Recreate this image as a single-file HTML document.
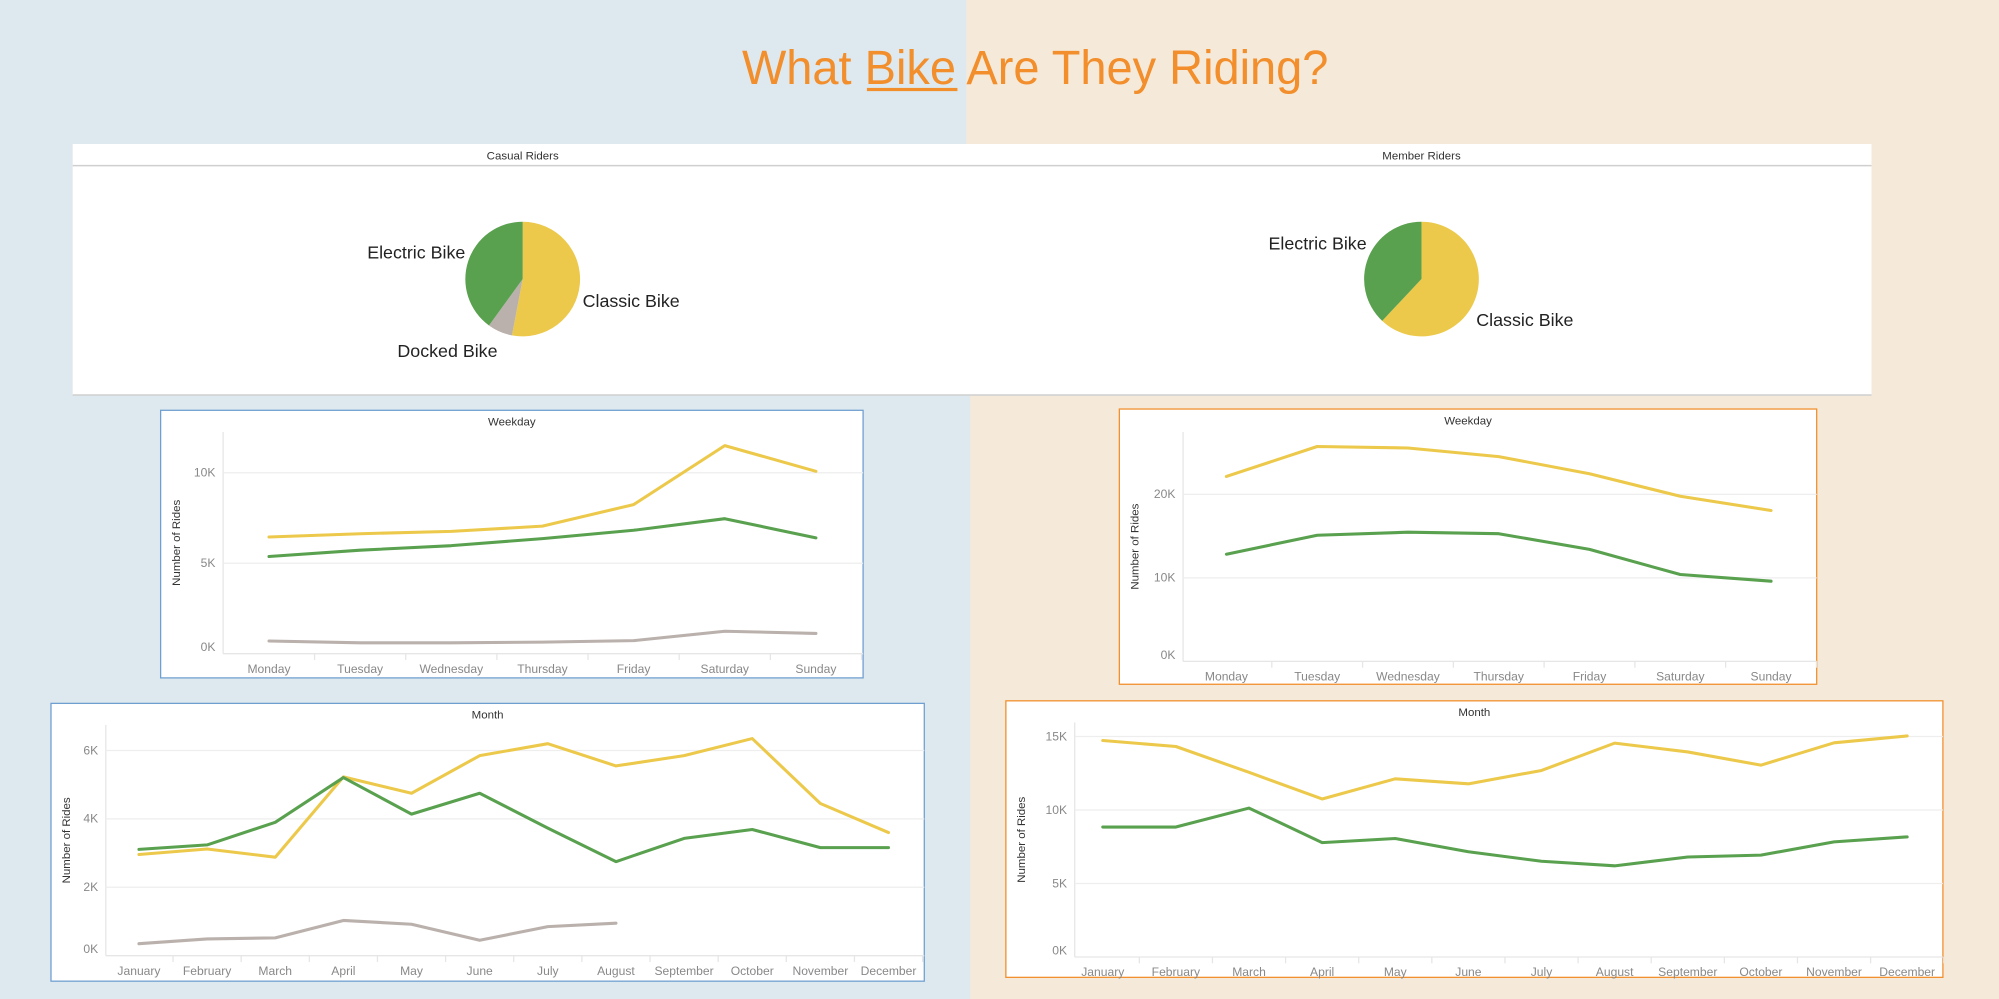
<!DOCTYPE html>
<html><head><meta charset="utf-8">
<style>
html,body{margin:0;padding:0;width:1999px;height:999px;overflow:hidden;background:#dde9ef;}
svg{display:block}
text{font-family:"Liberation Sans","DejaVu Sans",sans-serif;}
</style></head>
<body>
<svg id="root" width="1999" height="999" viewBox="0 0 1568 784" preserveAspectRatio="none" xmlns="http://www.w3.org/2000/svg">
  <rect x="0" y="0" width="758" height="310" fill="#dde9ef"/>
  <rect x="758" y="0" width="810" height="310" fill="#f5eada"/>
  <rect x="0" y="310" width="761" height="474" fill="#dde9ef"/>
  <rect x="761" y="310" width="807" height="474" fill="#f5eada"/>
  <text x="582" y="66" font-size="38" fill="#f28e2b" textLength="460" lengthAdjust="spacingAndGlyphs">What Bike Are They Riding?</text>
  <rect x="680" y="69" width="71" height="2.5" fill="#f28e2b"/>
  <rect x="57" y="113" width="1411" height="197" fill="#fff"/>
  <line x1="57" y1="130" x2="1468" y2="130" stroke="#cfcfcf" stroke-width="1.2"/>
  <line x1="57" y1="310" x2="1468" y2="310" stroke="#cfcfcf" stroke-width="1.2"/>
  <text x="410" y="125" font-size="9" fill="#333" text-anchor="middle">Casual Riders</text>
  <text x="1115" y="125" font-size="9" fill="#333" text-anchor="middle">Member Riders</text>
  <g id="pies"></g>
  <g id="charts"></g>
</svg>
<script>
// ---- Pie data ----
const casualPieLabels = ["Classic Bike", "Docked Bike", "Electric Bike"];
const casualPieShares = [53, 7, 40];
const memberPieLabels = ["Classic Bike", "Electric Bike"];
const memberPieShares = [62, 38];

// ---- Line chart data ----
const weekdays = ["Monday","Tuesday","Wednesday","Thursday","Friday","Saturday","Sunday"];
const months = ["January","February","March","April","May","June","July","August","September","October","November","December"];

const casualWeekdayClassic = [6.45, 6.63, 6.76, 7.05, 8.24, 11.5, 10.08];
const casualWeekdayElectric = [5.37, 5.72, 5.97, 6.36, 6.82, 7.46, 6.4];
const casualWeekdayDocked = [0.70, 0.6, 0.6, 0.64, 0.72, 1.24, 1.12];
const casualWeekdayTicks = [0, 5, 10];

const casualMonthClassic = [2.96, 3.12, 2.88, 5.23, 4.75, 5.85, 6.2, 5.55, 5.85, 6.35, 4.45, 3.6];
const casualMonthElectric = [3.11, 3.24, 3.9, 5.21, 4.14, 4.75, 3.73, 2.75, 3.43, 3.69, 3.16, 3.16];
const casualMonthDocked = [0.35, 0.49, 0.52, 1.03, 0.92, 0.45, 0.85, 0.95];
const casualMonthTicks = [0, 2, 4, 6];

const memberWeekdayClassic = [22.15, 25.74, 25.56, 24.53, 22.47, 19.78, 18.07];
const memberWeekdayElectric = [12.83, 15.11, 15.47, 15.29, 13.41, 10.4, 9.6];
const memberWeekdayTicks = [0, 10, 20];

const memberMonthClassic = [14.73, 14.32, 12.56, 10.75, 12.12, 11.78, 12.69, 14.55, 13.95, 13.05, 14.57, 15.04];
const memberMonthElectric = [8.84, 8.84, 10.13, 7.78, 8.06, 7.16, 6.51, 6.2, 6.8, 6.93, 7.83, 8.17];
const memberMonthTicks = [0, 5, 10, 15];

const NS = "http://www.w3.org/2000/svg";
const YELLOW = "#ecc94b", GREEN = "#59a14f", GRAY = "#bab0ac";

function mk(tag, attrs, parent) {
  const e = document.createElementNS(NS, tag);
  for (const k in attrs) e.setAttribute(k, attrs[k]);
  parent.appendChild(e);
  return e;
}

// ---- Pies ----
function drawPie(prefix, cx, cy, r, shares, labels, colors, labelPos) {
  const g = document.getElementById("pies");
  const total = shares.reduce((a, b) => a + b, 0);
  let start = 0;
  shares.forEach((s, i) => {
    const a0 = start / total * 2 * Math.PI, a1 = (start + s) / total * 2 * Math.PI;
    start += s;
    const x0 = cx + r * Math.sin(a0), y0 = cy - r * Math.cos(a0);
    const x1 = cx + r * Math.sin(a1), y1 = cy - r * Math.cos(a1);
    const large = (a1 - a0) > Math.PI ? 1 : 0;
    const p = mk("path", {d: `M${cx},${cy} L${x0},${y0} A${r},${r} 0 ${large} 1 ${x1},${y1} Z`, fill: colors[i]}, g);
    
    
    const lp = labelPos[i];
    const t = mk("text", {x: lp[0], y: lp[1], "font-size": 14, fill: "#222", "text-anchor": lp[2]}, g);
    t.textContent = labels[i];
    
    
  });
}
drawPie("casual-pie", 410, 219, 45, casualPieShares, casualPieLabels, [YELLOW, GRAY, GREEN],
  [[457, 241, "start"], [351, 280, "middle"], [365, 203, "end"]]);
drawPie("member-pie", 1115, 219, 45, memberPieShares, memberPieLabels, [YELLOW, GREEN],
  [[1158, 256, "start"], [1072, 196, "end"]]);

// ---- Line charts ----
function drawChart(cfg) {
  const g = mk("g", {}, document.getElementById("charts"));
  
  
  const box = mk("rect", {x: cfg.box[0], y: cfg.box[1], width: cfg.box[2], height: cfg.box[3], fill: "#fff", stroke: cfg.border, "stroke-width": 1}, g);
  
  
  const title = mk("text", {x: cfg.box[0] + cfg.box[2] / 2, y: cfg.box[1] + 12, "font-size": 9, fill: "#333", "text-anchor": "middle"}, g);
  title.textContent = cfg.title;
  
  

  const y = v => cfg.y0 - (v - 0) * (cfg.y0 - cfg.yTop) / (cfg.tickMax);
  const x = i => cfg.x0 + i * cfg.dx;
  const right = cfg.box[0] + cfg.box[2];

  // axis line
  const axl = mk("line", {x1: cfg.left, y1: cfg.plotTop, x2: cfg.left, y2: cfg.y0, stroke: "#e6e6e6", "stroke-width": 1}, g);
  
  
  const bl = mk("line", {x1: cfg.left, y1: cfg.y0, x2: right, y2: cfg.y0, stroke: "#e6e6e6", "stroke-width": 1}, g);
  
  

  cfg.ticks.forEach(t => {
    if (t > 0) {
      const gl = mk("line", {x1: cfg.left, y1: y(t), x2: right, y2: y(t), stroke: "#eeeeee", "stroke-width": 1}, g);
      
      
    }
    const tl = mk("text", {x: cfg.left - 6, y: y(t) + (t === 0 ? -2 : 3), "font-size": 9.5, fill: "#888", "text-anchor": "end"}, g);
    tl.textContent = t + "K";
    
    
  });

  cfg.cats.forEach((c, i) => {
    const cl = mk("text", {x: x(i), y: cfg.y0 + 15, "font-size": 9.5, fill: "#888", "text-anchor": "middle"}, g);
    cl.textContent = c;
    
    
    const tk = mk("line", {x1: x(i) + cfg.dx / 2, y1: cfg.y0, x2: x(i) + cfg.dx / 2, y2: cfg.y0 + 5, stroke: "#e6e6e6", "stroke-width": 1}, g);
    
    
  });

  const ax = mk("text", {transform: `translate(${cfg.box[0] + 15},${(cfg.plotTop + cfg.y0) / 2}) rotate(-90)`, "font-size": 9, fill: "#333", "text-anchor": "middle"}, g);
  ax.textContent = "Number of Rides";
  
  

  cfg.series.forEach(s => {
    const pts = s.values.map((v, i) => x(i) + "," + y(v)).join(" ");
    const pl = mk("polyline", {points: pts, fill: "none", stroke: s.color, "stroke-width": 2.4, "stroke-linejoin": "round", "stroke-linecap": "round"}, g);
    
    
  });
}

drawChart({name: "casual-weekday-chart", title: "Weekday", box: [126, 322, 551, 210], border: "#6f9fd0",
  left: 175, plotTop: 339, y0: 513, yTop: 371, tickMax: 10, x0: 211, dx: 71.5, cats: weekdays, ticks: casualWeekdayTicks,
  series: [{key: "classic", color: YELLOW, values: casualWeekdayClassic},
           {key: "electric", color: GREEN, values: casualWeekdayElectric},
           {key: "docked", color: GRAY, values: casualWeekdayDocked}]});

drawChart({name: "casual-month-chart", title: "Month", box: [40, 552, 685, 218], border: "#6f9fd0",
  left: 83, plotTop: 569, y0: 750, yTop: 589, tickMax: 6, x0: 109, dx: 53.45, cats: months, ticks: casualMonthTicks,
  series: [{key: "classic", color: YELLOW, values: casualMonthClassic},
           {key: "electric", color: GREEN, values: casualMonthElectric},
           {key: "docked", color: GRAY, values: casualMonthDocked}]});

drawChart({name: "member-weekday-chart", title: "Weekday", box: [878, 321, 547, 216], border: "#f28e2b",
  left: 928, plotTop: 339, y0: 519, yTop: 388, tickMax: 20, x0: 962, dx: 71.2, cats: weekdays, ticks: memberWeekdayTicks,
  series: [{key: "classic", color: YELLOW, values: memberWeekdayClassic},
           {key: "electric", color: GREEN, values: memberWeekdayElectric}]});

drawChart({name: "member-month-chart", title: "Month", box: [789, 550, 735, 217], border: "#f28e2b",
  left: 843, plotTop: 567, y0: 751, yTop: 578, tickMax: 15, x0: 865, dx: 57.36, cats: months, ticks: memberMonthTicks,
  series: [{key: "classic", color: YELLOW, values: memberMonthClassic},
           {key: "electric", color: GREEN, values: memberMonthElectric}]});
</script>
</body></html>
